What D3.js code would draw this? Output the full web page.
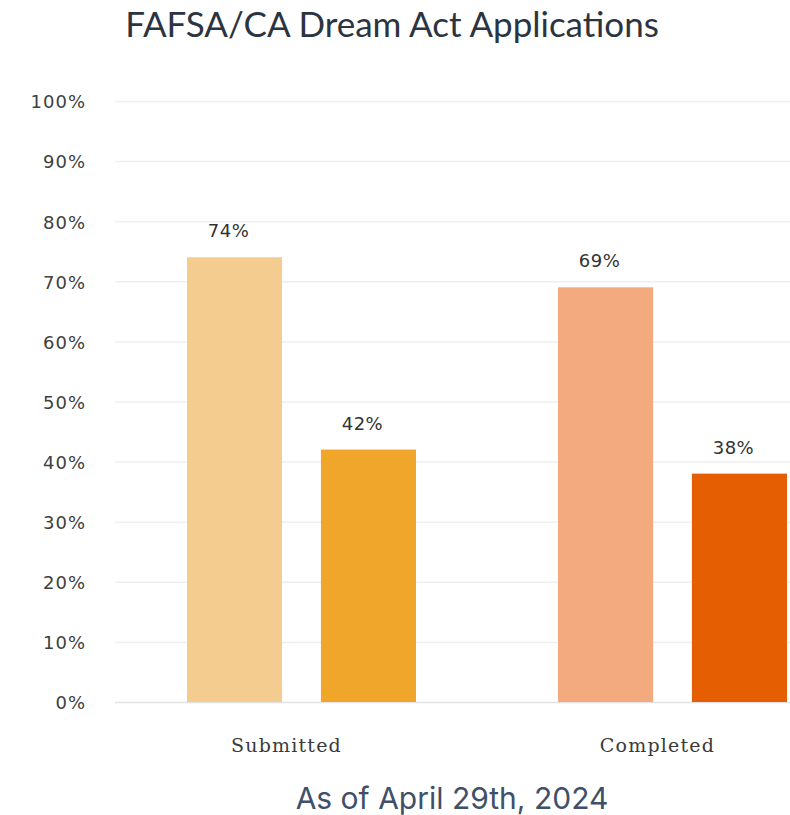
<!DOCTYPE html>
<html>
<head>
<meta charset="utf-8">
<script src="https://cdn.jsdelivr.net/npm/d3@7"></script>
<style>
  html, body { margin: 0; padding: 0; background: #ffffff; }
  svg { display: block; }
</style>
</head>
<body>
<svg id="chart" width="790" height="815"></svg>
<script>
const categories = ["Submitted", "Completed"];
const seriesNames = ["Series A", "Series B"];
const submittedValues = [74, 42];
const completedValues = [69, 38];
const tickValues = [0, 10, 20, 30, 40, 50, 60, 70, 80, 90, 100];
const barColors = [["#F5CC8F", "#EFA62A"], ["#F2AA7E", "#E65E02"]];

const values = { "Submitted": submittedValues, "Completed": completedValues };
const data = categories.map((c, ci) => ({
  category: c,
  items: seriesNames.map((s, si) => ({ series: s, value: values[c][si], color: barColors[ci][si] }))
}));

const svg = d3.select("#chart");
const y = d3.scaleLinear().domain([0, 100]).range([702, 101]);
const x0 = d3.scaleBand().domain(categories).range([115, 857]).padding(0);
const x1 = d3.scaleBand().domain(seriesNames).range([72, 301]).paddingInner(0.29).paddingOuter(0);

// gridlines
svg.append("g").selectAll("line").data(tickValues).join("line")
  .attr("x1", 115).attr("x2", 790)
  .attr("y1", d => y(d) + 0.5).attr("y2", d => y(d) + 0.5)
  .attr("stroke", d => d === 0 ? "#e2e2e2" : "#efefef").attr("stroke-width", 1.5);

const yAxis = d3.axisLeft(y).tickValues(tickValues).tickFormat(d => d + "%").tickSize(0).tickPadding(0);
const g = svg.append("g").attr("transform", "translate(86,0)").call(yAxis);
g.select(".domain").remove();
g.selectAll(".tick text").attr("font-family", "DejaVu Sans, sans-serif").attr("font-size", 18)
  .attr("letter-spacing", 1).attr("fill", "#404040").attr("dy", "0.38em");

const groups = svg.append("g").selectAll("g").data(data).join("g")
  .attr("transform", d => `translate(${x0(d.category)},0)`);

groups.selectAll("rect").data(d => d.items).join("rect")
  .attr("x", d => x1(d.series))
  .attr("width", x1.bandwidth())
  .attr("y", d => y(d.value))
  .attr("height", d => y(0) - y(d.value))
  .attr("fill", d => d.color);

groups.selectAll("text.val").data(d => d.items).join("text")
  .attr("class", "val")
  .attr("x", d => x1(d.series) + x1.bandwidth() / 2 - 6)
  .attr("y", d => y(d.value) - 20)
  .attr("text-anchor", "middle")
  .attr("font-family", "DejaVu Sans, sans-serif").attr("font-size", 18)
  .attr("letter-spacing", 0.5)
  .attr("fill", "#333")
  .text(d => d.value + "%");

groups.append("text")
  .attr("x", x0.bandwidth() / 2 - 14)
  .attr("y", 752)
  .attr("text-anchor", "middle")
  .attr("font-family", "DejaVu Serif, serif").attr("font-size", 19)
  .attr("letter-spacing", 1.2)
  .attr("fill", "#3a3a3a")
  .text(d => d.category);

svg.append("text")
  .attr("x", 392).attr("y", 37)
  .attr("text-anchor", "middle")
  .attr("font-family", "Lato, sans-serif").attr("font-size", 35)
  .attr("fill", "#2b3440")
  .text("FAFSA/CA Dream Act Applications");

svg.append("text")
  .attr("x", 452).attr("y", 809)
  .attr("text-anchor", "middle")
  .attr("font-family", "Inter, sans-serif").attr("font-size", 30)
  .attr("fill", "#3f5068")
  .text("As of April 29th, 2024");
</script>
</body>
</html>
